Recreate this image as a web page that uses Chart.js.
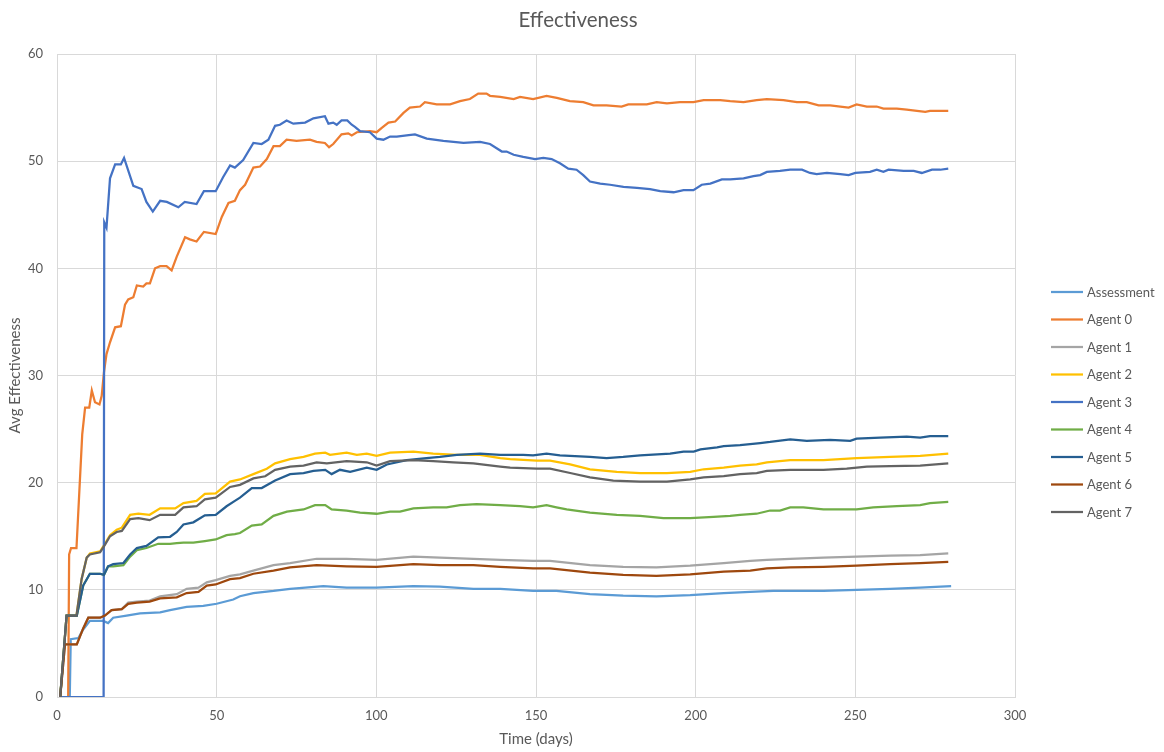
<!DOCTYPE html>
<html><head><meta charset="utf-8">
<script src="https://cdn.jsdelivr.net/npm/chart.js@4"></script>
<style>html,body{margin:0;padding:0;background:#fff}#wrap{width:1164px;height:752px;position:relative}</style>
</head><body><div id="wrap"><canvas id="c"></canvas></div>
<script>
// ---- data: [day, value] pairs ----
const seriesNames = ["Assessment","Agent 0","Agent 1","Agent 2","Agent 3","Agent 4","Agent 5","Agent 6","Agent 7"];

const assessment = [[1,0],[4,0],[4.3,5.4],[6.7,5.5],[8.2,6.3],[10.3,7.1],[14.5,7.1],[16,6.9],[17.6,7.4],[21.8,7.6],[26,7.8],[32.3,7.9],[35.4,8.1],[40.6,8.4],[45.8,8.5],[50,8.7],[55.2,9.1],[57.3,9.4],[61.5,9.7],[67.8,9.9],[73,10.1],[83.4,10.35],[90.7,10.2],[100.1,10.2],[111.6,10.35],[119.9,10.3],[130.4,10.1],[138.8,10.1],[149.1,9.9],[156.4,9.9],[166.9,9.6],[177.3,9.45],[187.7,9.4],[198.3,9.5],[208.8,9.7],[217.1,9.8],[224.3,9.9],[240,9.9],[250.4,10.0],[260.9,10.1],[270.3,10.2],[280,10.35]];

const agent0 = [[1,0],[3.5,0],[3.8,13.3],[4.4,13.9],[6.1,13.9],[7.9,24.5],[8.8,27.0],[10.1,27.0],[10.9,28.6],[11.9,27.5],[13.3,27.3],[14.0,28.1],[14.7,30.3],[15.5,32.0],[16.6,33.1],[18.2,34.5],[20.0,34.6],[21.3,36.6],[22.3,37.1],[23.9,37.3],[25,38.4],[27,38.3],[28,38.6],[29.1,38.6],[30.7,40.0],[32.3,40.2],[34.3,40.2],[35.9,39.8],[37.5,41.1],[40.1,42.9],[41.6,42.7],[43.7,42.5],[46,43.4],[49.7,43.2],[51.6,44.8],[53.7,46.1],[55.7,46.3],[57.3,47.3],[58.9,47.8],[61.5,49.4],[63.6,49.5],[65.7,50.2],[67.8,51.4],[69.8,51.4],[71.9,52.0],[75,51.9],[79.2,52.0],[81.3,51.8],[83.9,51.7],[85.2,51.3],[86.5,51.6],[89.1,52.5],[91.2,52.6],[92.3,52.4],[93.9,52.7],[98,52.8],[100.1,52.7],[101.7,53.1],[103.8,53.6],[105.9,53.7],[108.5,54.5],[110.5,55.0],[113.7,55.1],[115.2,55.5],[118.9,55.3],[123.1,55.3],[126.2,55.6],[129.3,55.8],[131.9,56.3],[134.5,56.3],[135.6,56.1],[138.8,56.0],[143,55.8],[145,56.0],[149.1,55.8],[153.3,56.1],[156.5,55.9],[160.6,55.6],[164.8,55.5],[168,55.2],[172.1,55.2],[176.8,55.1],[178.9,55.3],[184.7,55.3],[187.8,55.5],[191,55.4],[195.1,55.5],[199.3,55.5],[202.5,55.7],[207.7,55.7],[210.8,55.6],[215,55.5],[219.1,55.7],[222.3,55.8],[227.5,55.7],[231.7,55.5],[234.8,55.5],[238.5,55.2],[242.1,55.2],[245.3,55.1],[247.9,55.0],[250.4,55.3],[253.6,55.1],[256.7,55.1],[258.8,54.9],[263,54.9],[266.1,54.8],[269.3,54.7],[271.9,54.6],[273.4,54.7],[279.1,54.7]];

const agent1 = [[1,0],[2.5,4.9],[6.2,4.9],[8.2,6.4],[9.8,7.4],[13.5,7.4],[15,7.6],[17.1,8.1],[20.3,8.2],[22.3,8.8],[25,8.9],[29,9.0],[32.3,9.4],[37.5,9.6],[40.6,10.1],[44.3,10.2],[46.9,10.7],[49.7,10.9],[54.2,11.3],[57.3,11.45],[61.5,11.8],[67.8,12.3],[73,12.5],[81.3,12.9],[90.7,12.9],[100.1,12.8],[111.6,13.1],[119.9,13.0],[130.4,12.9],[138.8,12.8],[149.1,12.7],[154.4,12.7],[166.9,12.3],[177.3,12.15],[187.7,12.1],[198.3,12.25],[208.8,12.5],[217.1,12.7],[222.3,12.8],[229.6,12.9],[240,13.0],[250.4,13.1],[260.9,13.2],[270.3,13.25],[279.1,13.4]];

const agent2 = [[1,0],[3.0,7.6],[6.1,7.6],[7.7,11.0],[9.3,13.0],[10.3,13.4],[13.5,13.6],[15,14.3],[16.6,15.1],[18.7,15.6],[20.3,15.8],[22.9,17.0],[25.5,17.1],[29,17.0],[32.3,17.6],[37,17.6],[39.6,18.1],[43.7,18.3],[46.3,18.95],[49.7,19.0],[54.2,20.1],[57.3,20.3],[61.5,20.8],[65.7,21.3],[68.3,21.8],[73,22.2],[77.2,22.4],[80.8,22.7],[84,22.8],[85.5,22.6],[90.7,22.8],[93.9,22.6],[97,22.7],[100.1,22.5],[104.3,22.8],[111.6,22.9],[117.8,22.7],[125.2,22.6],[132.5,22.6],[138.8,22.3],[141.9,22.2],[150.2,22.05],[154.4,22.05],[160.7,21.7],[166.9,21.25],[175.3,21.0],[182.6,20.9],[191,20.9],[198.3,21.0],[202.5,21.25],[208.8,21.4],[213.9,21.6],[219.1,21.7],[222.3,21.9],[229.6,22.1],[240,22.1],[245.2,22.2],[250.4,22.3],[260.9,22.4],[270.3,22.5],[279.1,22.7]];

const agent3 = [[1,0],[14.6,0],[14.8,44.3],[15.5,43.8],[16.6,48.4],[18.2,49.7],[20,49.7],[21,50.3],[23.9,47.7],[26.5,47.4],[28,46.2],[30,45.3],[32.3,46.3],[34.4,46.2],[38,45.7],[40,46.2],[43.7,46.0],[46,47.2],[49.7,47.2],[52,48.5],[54.2,49.6],[55.7,49.4],[58.3,50.1],[61.5,51.7],[64.1,51.6],[66.2,52.0],[68.3,53.3],[69.8,53.4],[71.9,53.8],[74,53.5],[77.7,53.6],[80.3,54.0],[83.9,54.2],[85,53.5],[86.5,53.6],[87.6,53.4],[89.1,53.8],[90.9,53.8],[92.3,53.4],[93.3,53.2],[94.9,52.8],[98,52.7],[100.1,52.1],[102.2,52.0],[104.3,52.3],[106.4,52.3],[109.5,52.4],[112.1,52.5],[115.8,52.1],[121,51.9],[127.3,51.7],[132.5,51.8],[135.6,51.6],[139.3,50.9],[140.8,50.9],[143,50.6],[146,50.4],[149.7,50.2],[152.3,50.3],[154.9,50.2],[157.5,49.8],[160.1,49.3],[162.7,49.2],[164.8,48.7],[166.9,48.1],[170.1,47.9],[173.2,47.8],[177.4,47.6],[181.6,47.5],[185.7,47.4],[188.9,47.2],[193.1,47.1],[196.2,47.3],[199.3,47.3],[201.9,47.8],[204.6,47.9],[208.2,48.3],[210.8,48.3],[215,48.4],[218.1,48.6],[220.2,48.7],[222.3,49.0],[226.4,49.1],[229.6,49.2],[233.3,49.2],[235.8,48.9],[237.9,48.8],[241.1,48.9],[245.3,48.8],[247.9,48.7],[250,48.9],[254.6,49.0],[256.7,49.2],[258.8,49.0],[260.4,49.2],[265.1,49.1],[268.3,49.1],[270.8,48.9],[274,49.2],[276.6,49.2],[279.1,49.3]];

const agent4 = [[1,0],[3.0,7.6],[6.2,7.6],[8.2,10.4],[10.3,11.5],[13.5,11.5],[14.7,11.4],[16,12.2],[17.6,12.2],[20.8,12.3],[22.9,13.1],[25,13.7],[28,13.9],[31.7,14.3],[35.4,14.3],[37.5,14.35],[39.6,14.4],[42.7,14.4],[46.3,14.55],[49.7,14.7],[53.1,15.1],[55.7,15.2],[57.3,15.3],[61,16.0],[64.1,16.1],[67.8,16.9],[72,17.3],[77.2,17.5],[80.8,17.9],[84,17.9],[86,17.5],[90.7,17.4],[94.9,17.2],[100.1,17.1],[104.3,17.3],[107.4,17.3],[111.6,17.6],[117.8,17.7],[122,17.7],[126.2,17.9],[131.4,18.0],[138.8,17.9],[145,17.8],[149.1,17.7],[153.3,17.9],[156.4,17.7],[159.6,17.5],[166.9,17.2],[175.3,17.0],[182.6,16.9],[189.9,16.7],[198.3,16.7],[205.6,16.8],[210.8,16.9],[213.9,17.0],[219.1,17.1],[223.3,17.4],[226.4,17.4],[229.6,17.7],[233.7,17.7],[240,17.5],[245.2,17.5],[250.4,17.5],[255.6,17.7],[263,17.8],[270.3,17.9],[273.4,18.1],[279.1,18.2]];

const agent5 = [[1,0],[3.0,7.6],[6.2,7.6],[8.2,10.4],[10.3,11.5],[13.5,11.5],[14.7,11.4],[16,12.2],[17.6,12.4],[20.8,12.5],[22.9,13.3],[25,13.9],[28,14.1],[31.7,14.9],[35.4,14.95],[37.5,15.4],[39.6,16.1],[42.7,16.3],[46.3,16.95],[49.7,17.0],[53.1,17.8],[55.7,18.3],[57.3,18.6],[61,19.5],[64.1,19.5],[68.3,20.2],[73,20.8],[77.2,20.9],[80.3,21.1],[84,21.2],[86,20.8],[88.6,21.2],[91.8,21.0],[97,21.4],[100.1,21.2],[103.3,21.7],[109.5,22.1],[115.7,22.3],[119.9,22.4],[125.2,22.6],[132.5,22.7],[138.8,22.6],[146,22.6],[149.1,22.55],[153.3,22.7],[157.5,22.55],[166.9,22.4],[172.1,22.3],[177.3,22.4],[182.6,22.55],[192,22.7],[196.2,22.9],[199.4,22.9],[201.5,23.1],[206.7,23.3],[208.8,23.4],[213.9,23.5],[220.2,23.7],[223.3,23.8],[229.6,24.05],[234.8,23.9],[242.1,24.0],[248.4,23.9],[250.4,24.1],[257.8,24.2],[266.1,24.3],[270.3,24.2],[273.4,24.35],[279.1,24.35]];

const agent6 = [[1,0],[2.5,4.9],[6.2,4.9],[8.2,6.4],[9.8,7.4],[13.5,7.4],[15,7.6],[17.1,8.1],[20.3,8.2],[22.3,8.7],[25,8.8],[29,8.9],[32.3,9.2],[37.5,9.3],[40.6,9.7],[44.3,9.8],[46.9,10.4],[49.7,10.5],[54.2,11.0],[57.3,11.1],[61.5,11.5],[67.8,11.8],[73,12.1],[81.3,12.3],[90.7,12.2],[100.1,12.15],[111.6,12.4],[119.9,12.3],[130.4,12.3],[138.8,12.15],[149.1,12.0],[154.4,12.0],[166.9,11.6],[177.3,11.4],[187.7,11.3],[198.3,11.45],[208.8,11.7],[217.1,11.8],[222.3,12.0],[229.6,12.1],[240,12.15],[250.4,12.25],[260.9,12.4],[270.3,12.5],[279.1,12.6]];

const agent7 = [[1,0],[3.0,7.6],[6.1,7.6],[7.7,11.0],[9.3,13.0],[10.3,13.3],[13.5,13.5],[15,14.2],[16.6,15.0],[18.7,15.4],[20.3,15.5],[22.9,16.6],[25.5,16.7],[29,16.5],[32.3,17.0],[37,17.0],[39.6,17.7],[43.7,17.8],[46.3,18.45],[49.7,18.6],[54.2,19.6],[57.3,19.8],[61.5,20.4],[65.2,20.6],[68.3,21.2],[73,21.5],[77.2,21.6],[81.3,21.9],[84.5,21.8],[90.7,22.0],[97,21.9],[100.1,21.6],[104.3,22.0],[111.6,22.1],[117.8,22.0],[124.1,21.9],[130.4,21.8],[138.8,21.5],[141.9,21.4],[150.2,21.3],[154.4,21.3],[160.7,20.9],[166.9,20.5],[174.2,20.2],[182.6,20.1],[191,20.1],[198.3,20.3],[202.5,20.5],[208.8,20.6],[213.9,20.8],[219.1,20.9],[222.3,21.1],[229.6,21.2],[240,21.2],[247.3,21.3],[253.6,21.5],[260.9,21.55],[270.3,21.6],[279.1,21.8]];

const xTicks = [0,50,100,150,200,250,300];
const yTicks = [0,10,20,30,40,50,60];

// ---- styling ----
const seriesData = [assessment, agent0, agent1, agent2, agent3, agent4, agent5, agent6, agent7];
const colors = ["#5B9BD5","#ED7D31","#A5A5A5","#FFC000","#4472C4","#70AD47","#255E91","#9E480E","#636363"];
const FONT = "Lato, 'Open Sans', sans-serif";
const TEXT = "#595959";

const datasets = seriesData.map((pts, i) => ({
  label: seriesNames[i],
  data: pts.map(p => ({x: p[0], y: p[1]})),
  borderColor: colors[i],
  backgroundColor: colors[i],
  borderWidth: 2.25,
  pointRadius: 0,
  tension: 0,
  fill: false,
  order: seriesData.length - i
}));

const overlay = {
  id: 'overlay',
  afterDraw(chart) {
    const ctx = chart.ctx;
    ctx.save();
    ctx.fillStyle = TEXT;
    ctx.font = "20.5px " + FONT;
    ctx.textAlign = "center";
    ctx.textBaseline = "middle";
    ctx.fillText("Effectiveness", 578, 20);
    ctx.font = "13px " + FONT;
    ctx.textAlign = "left";
    chart.data.datasets.forEach((ds, i) => {
      const y = 292 + i * 27.5;
      ctx.strokeStyle = ds.borderColor;
      ctx.lineWidth = 2.25;
      ctx.beginPath();
      ctx.moveTo(1051, y);
      ctx.lineTo(1083, y);
      ctx.stroke();
      ctx.fillStyle = TEXT;
      ctx.fillText(ds.label, 1087, y + 0.5);
    });
    ctx.restore();
  }
};

new Chart(document.getElementById('c'), {
  type: 'line',
  data: { datasets },
  plugins: [overlay],
  options: {
    responsive: true,
    maintainAspectRatio: false,
    animation: false,
    devicePixelRatio: 1,
    layout: { padding: { top: 54, right: 149, left: 0, bottom: 0 } },
    plugins: { legend: { display: false }, title: { display: false }, tooltip: { enabled: false } },
    scales: {
      x: {
        type: 'linear', min: 0, max: 300,
        afterBuildTicks: s => { s.ticks = xTicks.map(v => ({value: v})); },
        afterFit: s => { s.height = 55; },
        grid: { color: "#D9D9D9", lineWidth: 1, drawTicks: false },
        border: { color: "#D9D9D9", width: 1 },
        ticks: { color: TEXT, font: { family: FONT, size: 13 }, padding: 11, maxRotation: 0 },
        title: { display: true, text: "Time (days)", color: TEXT, font: { family: FONT, size: 15 }, padding: { top: 0, bottom: 4 } }
      },
      y: {
        type: 'linear', min: 0, max: 60,
        afterBuildTicks: s => { s.ticks = yTicks.map(v => ({value: v})); },
        afterFit: s => { s.width = 57; },
        grid: { color: "#D9D9D9", lineWidth: 1, drawTicks: false },
        border: { color: "#D9D9D9", width: 1 },
        ticks: { color: TEXT, font: { family: FONT, size: 13 }, padding: 14 },
        title: { display: true, text: "Avg Effectiveness", color: TEXT, font: { family: FONT, size: 15 }, padding: { top: 6, bottom: 0 } }
      }
    }
  }
});
</script></body></html>
